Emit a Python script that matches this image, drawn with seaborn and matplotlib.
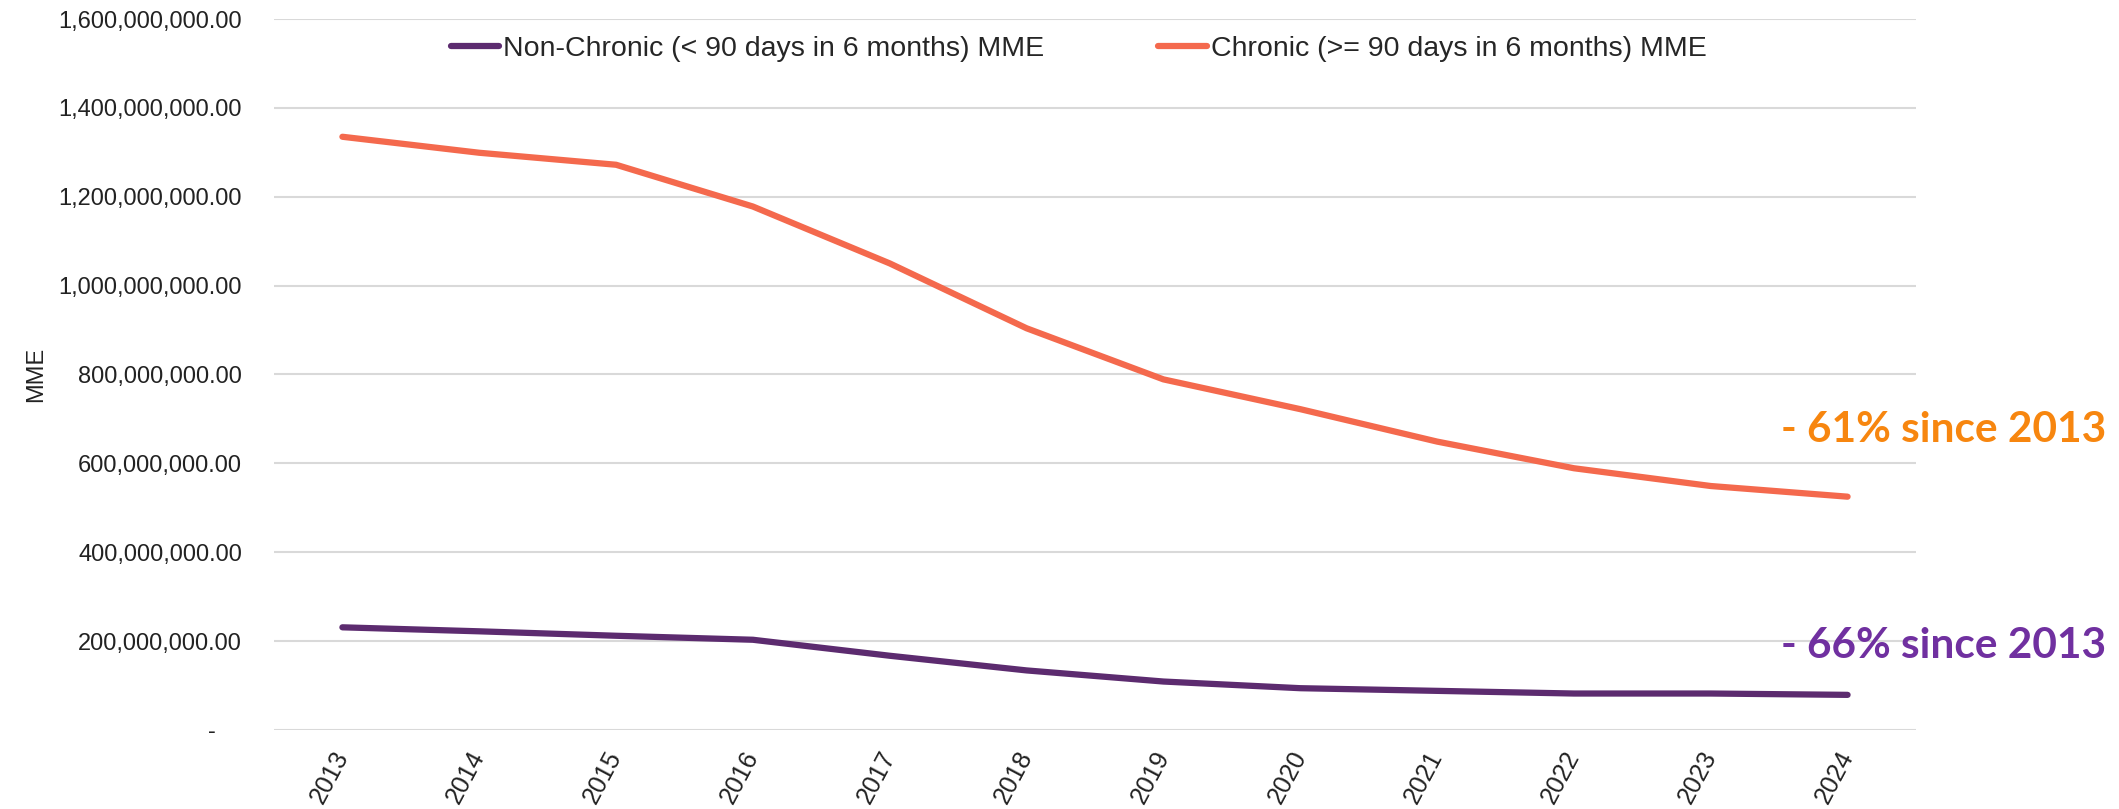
import matplotlib
matplotlib.use("Agg")
import matplotlib.pyplot as plt
import matplotlib.ticker as mticker
import pandas as pd
import seaborn as sns

# values
YEARS = ["2013", "2014", "2015", "2016", "2017", "2018",
         "2019", "2020", "2021", "2022", "2023", "2024"]
NON_CHRONIC = [231e6, 222e6, 212e6, 203e6, 167e6, 134e6,
               109e6, 94e6, 88e6, 82e6, 82e6, 79e6]
CHRONIC = [1335e6, 1299e6, 1272e6, 1178e6, 1050e6, 904e6,
           789e6, 722e6, 649e6, 589e6, 549e6, 525e6]
SERIES = ["Non-Chronic (< 90 days in 6 months) MME",
          "Chronic (>= 90 days in 6 months) MME"]
LINE_COLORS = ["#5C2B6F", "#F4694D"]
NOTES = ["- 66% since 2013", "- 61% since 2013"]
NOTE_COLORS = ["#7030A0", "#F7860F"]
Y_TICKS = [0, 200e6, 400e6, 600e6, 800e6, 1000e6, 1200e6, 1400e6, 1600e6]

sns.set_theme(style="white")
plt.rcParams["font.family"] = ["Liberation Sans", "DejaVu Sans"]

df = pd.DataFrame({
    "year": YEARS * 2,
    "mme": NON_CHRONIC + CHRONIC,
    "series": [SERIES[0]] * len(YEARS) + [SERIES[1]] * len(YEARS),
})

fig = plt.figure(figsize=(21.19, 8.09), dpi=100)
ax = fig.add_axes([0.1293, 0.0977, 0.7749, 0.8788])

sns.lineplot(data=df, x="year", y="mme", hue="series", hue_order=SERIES,
             palette=LINE_COLORS, linewidth=4.5, sort=False, ax=ax,
             solid_capstyle="round")

ax.set_xlim(-0.5, len(YEARS) - 0.5)
ax.set_ylim(0, 1600e6)
ax.set_yticks(Y_TICKS)
ax.yaxis.set_major_formatter(
    mticker.FuncFormatter(lambda v, _: "-    " if v == 0 else f"{v:,.2f}"))
ax.grid(axis="y", color="#D9D9D9", linewidth=1.5)
ax.grid(axis="x", visible=False)
ax.set_axisbelow(True)
for side in ["top", "right", "left", "bottom"]:
    ax.spines[side].set_visible(False)

ax.tick_params(axis="y", length=0, pad=23, labelsize=17, labelcolor="#222222")
ax.tick_params(axis="x", length=0, pad=16, labelsize=18, labelcolor="#222222")
for lbl in ax.get_xticklabels():
    lbl.set_rotation(62)
    lbl.set_ha("right")
    lbl.set_va("center")
    lbl.set_rotation_mode("anchor")

ax.set_xlabel("")
ax.set_ylabel("MME", fontsize=17, color="#222222", labelpad=8)

ax.legend(loc="center", bbox_to_anchor=(0.49, 0.958), ncol=2, frameon=False,
          fontsize=20.5, handlelength=1.7, handletextpad=0.15, columnspacing=4.0)

fig.text(0.9939, 0.4685, NOTES[1], ha="right", va="center", fontsize=30.5,
         fontweight="bold", color=NOTE_COLORS[1], family=["Lato", "DejaVu Sans"])
fig.text(0.9939, 0.2015, NOTES[0], ha="right", va="center", fontsize=30.5,
         fontweight="bold", color=NOTE_COLORS[0], family=["Lato", "DejaVu Sans"])

fig.savefig("out.png", dpi=100)
